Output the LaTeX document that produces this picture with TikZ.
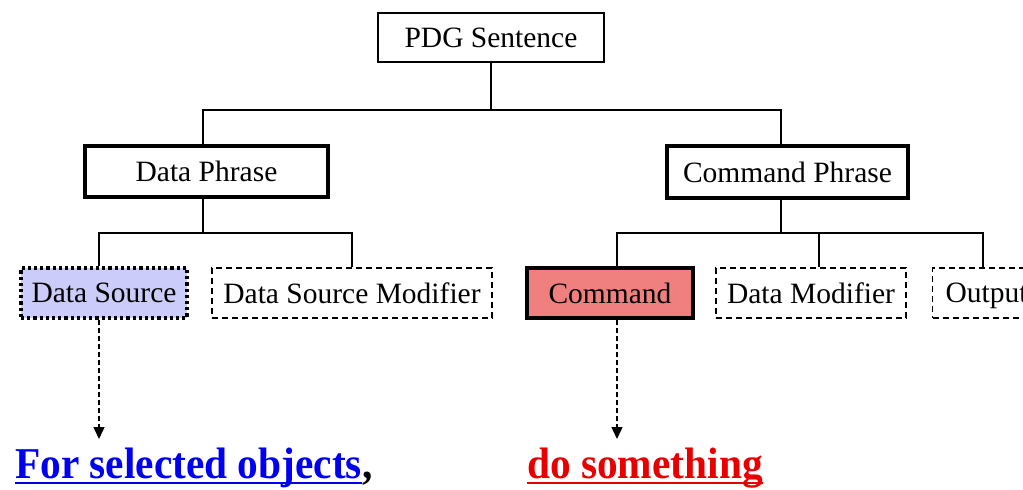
\documentclass[tikz,border=0pt]{standalone}
\usepackage{fontspec}
\setmainfont{Liberation Serif}
\newfontfamily\bigserif[FakeStretch=0.94]{Liberation Serif}
\usetikzlibrary{arrows.meta}
\definecolor{dslav}{HTML}{CCCCFA}
\definecolor{cmdred}{HTML}{F08080}
\definecolor{txtblue}{HTML}{0000F0}
\definecolor{txtred}{HTML}{E80000}
\tikzset{
  boxbase/.style={draw=black, inner sep=0pt, font=\fontsize{29.5}{34}\selectfont, text depth=0pt},
  thinbox/.style={boxbase, line width=1.3pt},
  thickbox/.style={boxbase, line width=3.6pt},
  dotbox/.style={boxbase, line width=3.6pt, dash pattern=on 3.2pt off 3pt, fill=dslav},
  dashbox/.style={boxbase, line width=1.3pt, dash pattern=on 6pt off 4pt},
  link/.style={line width=1.3pt},
  pointer/.style={line width=1.4pt, dash pattern=on 5pt off 3pt, -{Triangle[width=11pt,length=12pt]}},
  bigtext/.style={inner sep=0pt, font=\bigserif\fontsize{44}{50}\selectfont\bfseries}
}
\begin{document}
\begin{tikzpicture}[x=1pt,y=-1pt]
\useasboundingbox (0,0) rectangle (1023,490);
\fill[white] (0,0) rectangle (1023,490);
\clip (0,0) rectangle (1023,490);

% nodes
\node[thinbox, minimum width=226pt, minimum height=49pt] (pdg) at (491,37.5) {PDG Sentence};
\node[thickbox, minimum width=243pt, minimum height=51pt] (dp) at (206.5,171.5) {Data Phrase};
\node[thickbox, minimum width=241pt, minimum height=52pt] (cp) at (787.5,172) {Command Phrase};
\node[dotbox, minimum width=166pt, minimum height=50pt] (ds) at (104,293) {Data Source};
\node[dashbox, minimum width=280pt, minimum height=50pt] (dsm) at (352,293) {Data Source Modifier};
\node[thickbox, fill=cmdred, minimum width=166pt, minimum height=50pt] (cmd) at (610,293) {Command};
\node[dashbox, minimum width=190pt, minimum height=50pt] (dm) at (811,293) {Data Modifier};
\node[dashbox, anchor=west, text width=160pt, align=left, inner xsep=13pt, minimum height=50pt] (out) at (932,293) {Output};

% junction coordinates
\coordinate (j0) at (491,110);
\coordinate (j1) at (203,233);
\coordinate (j2) at (781,233);

% tree connectors
\draw[link] (pdg.south) -- (pdg.south |- j0);
\draw[link] ([xshift=-3.5pt]dp.north) |- (pdg.south |- j0) -| ([xshift=-6.5pt]cp.north);
\draw[link] ([xshift=-3.5pt]dp.south) -- ([xshift=-3.5pt]dp.south |- j1);
\draw[link] ([xshift=-5pt]ds.north) |- (j1) -| (dsm.north);
\draw[link] ([xshift=-6.5pt]cp.south) -- ([xshift=-6.5pt]cp.south |- j2);
\draw[link] ([xshift=7pt]cmd.north) |- (j2) -| ([xshift=8pt]dm.north);
\draw[link] (j2) -| ([xshift=51pt]out.north west);

% bottom texts
\node[bigtext, text=txtblue, anchor=base west] (fso) at (15,478) {For selected objects};
\node[bigtext, text=black, anchor=base west] (comma) at (fso.base east) {,};
\node[bigtext, text=txtred, anchor=base west] (dos) at (527,478) {do something};
\draw[txtblue, line width=2.2pt] ([yshift=-5pt]fso.base west) -- ([yshift=-5pt]fso.base east);
\draw[txtred, line width=2.2pt] ([yshift=-5pt]dos.base west) -- ([yshift=-5pt]dos.base east);

% pointer arrows
\coordinate (a1) at (99,439);
\coordinate (a2) at (617,439);
\draw[pointer] ([xshift=-5pt]ds.south) -- (a1);
\draw[pointer] ([xshift=7pt]cmd.south) -- (a2);
\end{tikzpicture}
\end{document}
